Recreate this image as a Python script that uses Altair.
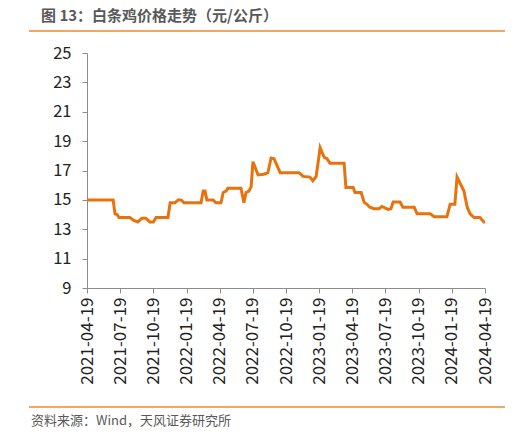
import pandas as pd
import altair as alt

# Price series (元/公斤)
dates = [
    "2021-04-19", "2021-06-30", "2021-07-05", "2021-07-11", "2021-07-16",
    "2021-08-15", "2021-08-26", "2021-09-06", "2021-09-17", "2021-09-28",
    "2021-10-09", "2021-10-19", "2021-10-26", "2021-11-28", "2021-12-04",
    "2021-12-17", "2021-12-26", "2022-01-03", "2022-01-11", "2022-02-27",
    "2022-03-05", "2022-03-10", "2022-03-15", "2022-04-01", "2022-04-09",
    "2022-04-23", "2022-04-29", "2022-05-07", "2022-05-12", "2022-06-17",
    "2022-06-25", "2022-07-01", "2022-07-09", "2022-07-15", "2022-07-20",
    "2022-08-03", "2022-08-19", "2022-08-30", "2022-09-08", "2022-09-16",
    "2022-10-03", "2022-11-24", "2022-12-05", "2022-12-24", "2023-01-01",
    "2023-01-10", "2023-01-21", "2023-02-01", "2023-02-09", "2023-02-17",
    "2023-03-28", "2023-04-02", "2023-04-22", "2023-04-27", "2023-05-14",
    "2023-05-22", "2023-05-30", "2023-06-07", "2023-06-18", "2023-07-02",
    "2023-07-10", "2023-07-27", "2023-08-04", "2023-08-10", "2023-08-29",
    "2023-09-06", "2023-10-07", "2023-10-15", "2023-11-20", "2023-12-01",
    "2024-01-05", "2024-01-14", "2024-01-27", "2024-02-02", "2024-02-21",
    "2024-03-01", "2024-03-09", "2024-03-20", "2024-04-05", "2024-04-16",
    "2024-04-19",
]
prices = [
    15.0, 15.0, 14.05, 14.0, 13.8,
    13.8, 13.6, 13.5, 13.75, 13.75,
    13.5, 13.5, 13.8, 13.8, 14.8,
    14.8, 15.0, 15.0, 14.8, 14.8,
    15.6, 15.6, 15.0, 15.0, 14.8,
    14.8, 15.5, 15.6, 15.8, 15.8,
    14.8, 15.5, 15.6, 15.9, 17.6,
    16.7, 16.75, 16.85, 17.85, 17.8,
    16.85, 16.85, 16.6, 16.55, 16.3,
    16.6, 18.55, 17.9, 17.8, 17.5,
    17.5, 15.85, 15.85, 15.5, 15.5,
    14.85, 14.7, 14.5, 14.4, 14.4,
    14.55, 14.35, 14.4, 14.85, 14.85,
    14.5, 14.5, 14.05, 14.05, 13.85,
    13.85, 14.7, 14.7, 16.55, 15.6,
    14.5, 14.05, 13.8, 13.8, 13.5,
    13.5,
]
tick_dates = [(2021, 4), (2021, 7), (2021, 10), (2022, 1), (2022, 4), (2022, 7),
              (2022, 10), (2023, 1), (2023, 4), (2023, 7), (2023, 10), (2024, 1),
              (2024, 4)]
y_ticks = [9, 11, 13, 15, 17, 19, 21, 23, 25]

title_text = "图 13：白条鸡价格走势（元/公斤）"
source_text = "资料来源：Wind，天风证券研究所"

FONT = "Noto Sans CJK SC"
ORANGE = "#E8720E"
AXIS_GREY = "#8c8c8c"

df = pd.DataFrame({"date": dates, "price": prices})

line = alt.Chart(df).mark_line(color=ORANGE, strokeWidth=3).encode(
    x=alt.X(
        "date:T",
        scale=alt.Scale(type="utc", domain=[alt.DateTime(year=2021, month=4, date=19, utc=True),
                                            alt.DateTime(year=2024, month=4, date=19, utc=True)],
                        nice=False),
        axis=alt.Axis(
            title=None,
            values=[alt.DateTime(year=y, month=m, date=19, utc=True) for y, m in tick_dates],
            format="%Y-%m-%d",
            labelAngle=-90,
            labelFont=FONT,
            labelFontSize=17,
            labelColor="#222222",
            labelPadding=4,
            labelLimit=200,
            tickSize=5,
            tickColor=AXIS_GREY,
            domainColor=AXIS_GREY,
            grid=False,
            labelOverlap=False,
        ),
    ),
    y=alt.Y(
        "price:Q",
        scale=alt.Scale(domain=[9, 25], nice=False, zero=False),
        axis=alt.Axis(
            title=None,
            values=y_ticks,
            labelFont=FONT,
            labelFontSize=16.5,
            labelColor="#222222",
            labelPadding=11,
            tickSize=5,
            tickColor=AXIS_GREY,
            domainColor=AXIS_GREY,
            grid=False,
        ),
    ),
)

one = pd.DataFrame({"a": [0]})

top_rule = alt.Chart(one).mark_rule(color="#F08a30", strokeWidth=1.5).encode(
    x=alt.value(-58), x2=alt.value(428), y=alt.value(-22)
)
bottom_rule = alt.Chart(one).mark_rule(color="#F08a30", strokeWidth=1.5).encode(
    x=alt.value(-58), x2=alt.value(428), y=alt.value(354)
)
title = alt.Chart(one).mark_text(
    text=title_text, font=FONT, fontSize=15, fontWeight="bold", color="#595959",
    align="left", baseline="top"
).encode(x=alt.value(-46), y=alt.value(-44))
source = alt.Chart(one).mark_text(
    text=source_text, font=FONT, fontSize=13, color="#595959",
    align="left", baseline="alphabetic"
).encode(x=alt.value(-56), y=alt.value(372))

chart = alt.layer(line, top_rule, bottom_rule, title, source).properties(
    width=398,
    height=235,
    autosize=alt.AutoSizeParams(type="none"),
    padding={"left": 79, "top": 45, "right": 20, "bottom": 140},
).configure_view(stroke=None)

chart.save("out.html", embed_options={"renderer": "svg", "actions": False})
